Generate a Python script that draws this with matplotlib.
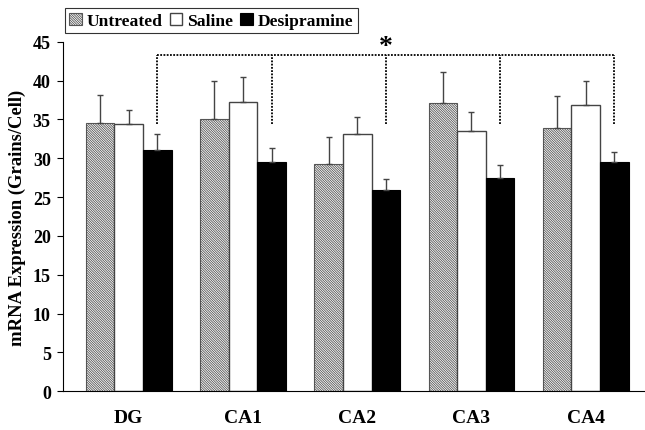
import numpy as np
import matplotlib
matplotlib.use("Agg")
import matplotlib.pyplot as plt

categories = ["DG", "CA1", "CA2", "CA3", "CA4"]
series_names = ["Untreated", "Saline", "Desipramine"]
untreated = [34.5, 35.1, 29.2, 37.1, 33.9]
untreated_err = [3.7, 4.9, 3.5, 4.0, 4.1]
saline = [34.4, 37.2, 33.1, 33.5, 36.85]
saline_err = [1.8, 3.2, 2.2, 2.5, 3.15]
desipramine = [31.06, 29.5, 25.9, 27.5, 29.55]
desipramine_err = [2.0, 1.8, 1.4, 1.6, 1.25]
yticks = [0, 5, 10, 15, 20, 25, 30, 35, 40, 45]
bracket_level = 43.3
bracket_bottom = 34.4
star_level = 44.4

plt.rcParams['font.family'] = ['Liberation Serif', 'DejaVu Serif']
plt.rcParams['font.weight'] = 'bold'
plt.rcParams['hatch.linewidth'] = 0.6
plt.rcParams['hatch.color'] = '#808080'

fig = plt.figure(figsize=(6.45, 4.31), dpi=100)
ax = fig.add_axes([63.3/645, 1-392.3/431, (644-63.3)/645, (392.3-42.7)/431])

x = np.arange(len(categories))
w = 0.25
err_kw = dict(ecolor='#444444', elinewidth=1.0, capsize=2.5, capthick=1.0)
ax.bar(x - w, untreated, w, color='white', edgecolor='#555555', linewidth=0.8,
       hatch='\\' * 14, label=series_names[0],
       yerr=[np.zeros(5), untreated_err], error_kw=err_kw)
ax.bar(x, saline, w, color='white', edgecolor='#444444', linewidth=1.0,
       label=series_names[1],
       yerr=[np.zeros(5), saline_err], error_kw=err_kw)
ax.bar(x + w, desipramine, w, color='black', edgecolor='black', linewidth=0.8,
       label=series_names[2],
       yerr=[np.zeros(5), desipramine_err], error_kw=err_kw)

# significance bracket
xs = x + w
ls = (0, (1, 0.8))
ax.plot([xs[0], xs[-1]], [bracket_level, bracket_level], color='black', lw=1.3, linestyle=ls)
for xv in xs:
    ax.plot([xv, xv], [bracket_bottom, bracket_level], color='black', lw=1.3, linestyle=ls)
ax.text(xs[2], star_level, '*', ha='center', va='center', fontsize=20, fontweight='bold')

ax.set_xlim(-0.573, 4.51)
ax.set_ylim(0, 45)
ax.set_yticks(yticks)
ax.set_yticklabels([str(t) for t in yticks], fontsize=13, fontweight='bold')
ax.set_xticks(x)
ax.set_xticklabels(categories, fontsize=14, fontweight='bold')
ax.tick_params(axis='x', length=0, pad=13)
ax.tick_params(axis='y', length=4, width=0.8, direction='out', pad=5)
for s in ['top', 'right']:
    ax.spines[s].set_visible(False)
ax.spines['left'].set_linewidth(0.8)
ax.spines['bottom'].set_linewidth(0.8)
ax.set_ylabel('mRNA Expression (Grains/Cell)', fontsize=13.4, fontweight='bold', labelpad=5)

leg = fig.legend(loc='upper left', bbox_to_anchor=(65/645, 1-9.3/431), ncol=3,
                 frameon=True, fancybox=False, edgecolor='black', fontsize=12.6,
                 handlelength=0.7, handleheight=0.7, handletextpad=0.3,
                 columnspacing=0.4, borderpad=0.25, borderaxespad=0)
leg.get_frame().set_linewidth(0.8)

fig.savefig('out.png', dpi=100)
